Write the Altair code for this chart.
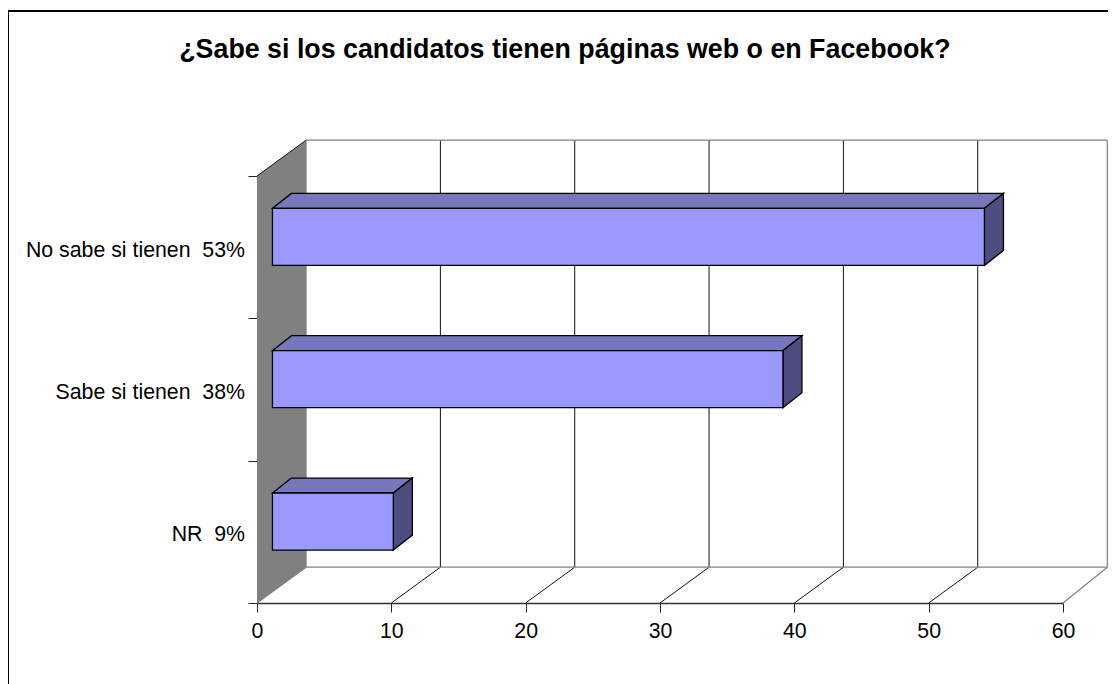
import altair as alt
import pandas as pd

TITLE = "¿Sabe si los candidatos tienen páginas web o en Facebook?"
categories = ["NR\u00a0\u00a09%", "Sabe si tienen\u00a0\u00a038%", "No sabe si tienen\u00a0\u00a053%"]
values = [9, 38, 53]
x_ticks = [0, 10, 20, 30, 40, 50, 60]
y_ticks = [0, 1, 2, 3]

FONT = "Liberation Sans"
WALL_DX, WALL_DY = 3.652, 0.2515   # depth of the chart box, in axis units
BOX_DX = 3.3                       # right edge of the box, kept inside the page
BAR_DX, BAR_DY = 1.416, 0.105      # depth of each bar
BAR_START = 1.15
BAR_BOTTOM, BAR_HEIGHT = 0.372, 0.401
XMAX, YMAX = x_ticks[-1], y_ticks[-1]
TITLE_X, TITLE_Y = 22.92, 3.832

xs = alt.Scale(domain=[0, XMAX], nice=False)
ys = alt.Scale(domain=[0, YMAX], nice=False)
X = alt.X("x:Q", scale=xs, title=None, stack=None,
          axis=alt.Axis(values=x_ticks, grid=False, tickSize=9, labelFont=FONT, labelFontSize=21.3,
                        labelColor="black", tickColor="#222", domainColor="#333", domainWidth=1.4,
                        labelPadding=8, labelFlush=False))
Y = alt.Y("y:Q", scale=ys, title=None, stack=None,
          axis=alt.Axis(values=y_ticks, grid=False, tickSize=9, labels=False, tickColor="#222", domainColor="#111"))
X2, Y2 = alt.X2("x2:Q"), alt.Y2("y2:Q")

# Chart box
back_lines = pd.DataFrame(
    [dict(x=t + WALL_DX, x2=t + WALL_DX, y=WALL_DY, y2=YMAX + WALL_DY) for t in x_ticks[1:-1]]
    + [dict(x=t, x2=t + WALL_DX, y=0, y2=WALL_DY) for t in x_ticks[1:-1]]
)
box_lines = pd.DataFrame([
    dict(x=WALL_DX, x2=XMAX + BOX_DX, y=YMAX + WALL_DY, y2=YMAX + WALL_DY),
    dict(x=WALL_DX, x2=XMAX + BOX_DX, y=WALL_DY, y2=WALL_DY),
    dict(x=XMAX + BOX_DX, x2=XMAX + BOX_DX, y=WALL_DY, y2=YMAX + WALL_DY),
    dict(x=XMAX, x2=XMAX + BOX_DX, y=0, y2=WALL_DY),
    dict(x=0, x2=WALL_DX, y=0, y2=WALL_DY),
    dict(x=WALL_DX, x2=WALL_DX, y=WALL_DY, y2=YMAX + WALL_DY),
])
wall = pd.DataFrame([dict(x=0, y=0, y2=YMAX), dict(x=WALL_DX, y=WALL_DY, y2=YMAX + WALL_DY)])
wall_top = pd.DataFrame([dict(x=0, x2=WALL_DX, y=YMAX, y2=YMAX + WALL_DY)])

# Bars
front, top, side = [], [], []
for i, (c, v) in enumerate(zip(categories, values)):
    b = i + BAR_BOTTOM
    t = b + BAR_HEIGHT
    e = BAR_START + v
    front.append(dict(cat=c, x=BAR_START, x2=e, y=b, y2=t))
    top += [dict(cat=c, y=t, x=BAR_START, x2=e),
            dict(cat=c, y=t + BAR_DY, x=BAR_START + BAR_DX, x2=e + BAR_DX)]
    side += [dict(cat=c, x=e, y=b, y2=t),
             dict(cat=c, x=e + BAR_DX, y=b + BAR_DY, y2=t + BAR_DY)]
labels = pd.DataFrame({"cat": categories, "x": 0.0, "y": [i + 0.5 for i in range(len(categories))]})
title_df = pd.DataFrame({"t": [TITLE], "x": [TITLE_X], "y": [TITLE_Y]})

LW = 1.3
layers = [
    alt.Chart(wall).mark_area(color="#808080", opacity=1).encode(x=X, y=Y, y2=Y2),
    alt.Chart(back_lines).mark_rule(color="#111", strokeWidth=1).encode(x=X, x2=X2, y=Y, y2=Y2),
    alt.Chart(box_lines).mark_rule(color="#808080", strokeWidth=1.2).encode(x=X, x2=X2, y=Y, y2=Y2),
    alt.Chart(wall_top).mark_rule(color="#111", strokeWidth=1).encode(x=X, x2=X2, y=Y, y2=Y2),
    alt.Chart(pd.DataFrame(top)).mark_area(orient="horizontal", fill="#7777BB", stroke="black", strokeWidth=LW, opacity=1)
        .encode(y=Y, x=X, x2=X2, detail="cat:N"),
    alt.Chart(pd.DataFrame(side)).mark_area(fill="#4D4D80", stroke="black", strokeWidth=LW, opacity=1)
        .encode(x=X, y=Y, y2=Y2, detail="cat:N"),
    alt.Chart(pd.DataFrame(front)).mark_rect(fill="#9999FF", stroke="black", strokeWidth=LW)
        .encode(x=X, x2=X2, y=Y, y2=Y2),
    alt.Chart(labels).mark_text(align="right", baseline="middle", dx=-12, dy=3.5, font=FONT, fontSize=21.3, color="black")
        .encode(x=X, y=Y, text="cat:N"),
    alt.Chart(title_df).mark_text(align="center", baseline="alphabetic", font=FONT, fontSize=26.8, fontWeight="bold", color="black")
        .encode(x=X, y=Y, text="t:N"),
    # outer frame of the picture
    alt.Chart(pd.DataFrame({"a": [0]})).mark_rule(color="black", strokeWidth=2)
        .encode(x=alt.value(-249), x2=alt.value(852), y=alt.value(-165)),
    alt.Chart(pd.DataFrame({"a": [0]})).mark_rule(color="black", strokeWidth=2)
        .encode(x=alt.value(-249), y=alt.value(-165), y2=alt.value(510)),
]

chart = alt.layer(*layers).properties(
    width=806, height=427,
    padding={"left": 249, "top": 168, "right": 45, "bottom": 81},
    autosize=alt.AutoSizeParams(type="none"),
    background="white",
).configure_view(stroke=None)

chart.save("out.html", embed_options={"renderer": "svg", "actions": False})
